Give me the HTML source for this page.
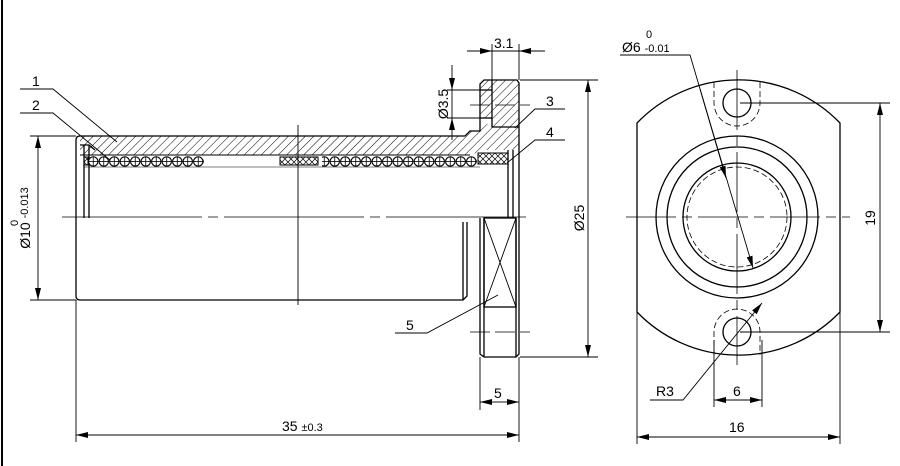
<!DOCTYPE html>
<html><head><meta charset="utf-8"><style>
html,body{margin:0;padding:0;background:#fff;}
svg{display:block;}
text{font-family:"Liberation Sans",sans-serif;font-size:14px;fill:#000;}
</style></head><body>
<svg width="900" height="466" viewBox="0 0 900 466" xmlns="http://www.w3.org/2000/svg">
<defs>
<pattern id="hatch" width="6" height="6" patternUnits="userSpaceOnUse" patternTransform="rotate(45)">
<line x1="0" y1="0" x2="0" y2="6" stroke="#000" stroke-width="1"/>
</pattern>
<pattern id="balls" x="88" y="156" width="10.5" height="11" patternUnits="userSpaceOnUse">
<circle cx="5.25" cy="5.5" r="4.7" fill="#fff" stroke="#000" stroke-width="1.1"/>
<line x1="5.25" y1="1" x2="5.25" y2="10" stroke="#000" stroke-width="0.8"/>
<line x1="0.6" y1="5.5" x2="9.9" y2="5.5" stroke="#000" stroke-width="0.8"/>
</pattern>
<pattern id="cross" width="6" height="6" patternUnits="userSpaceOnUse">
<path d="M0 0L6 6M6 0L0 6" stroke="#000" stroke-width="0.7"/>
</pattern>
<marker id="a" viewBox="0 0 12 6" refX="12" refY="3" markerWidth="12" markerHeight="6" orient="auto-start-reverse" markerUnits="userSpaceOnUse">
<path d="M0 0L12 3L0 6z" fill="#000"/>
</marker>
</defs>
<g fill="none" stroke="#000" stroke-width="1.3">
<line x1="2" y1="0" x2="2" y2="466" stroke-width="2"/>
<path d="M80 136 L465 136 L470 131 L480 131 L480 127 L492 122 L492 118 L480 118 L480 84 L484 80 L519 80 L519 150 L485 150 L470 155 L80 155 Z" fill="url(#hatch)" stroke="none"/>
<path d="M80 136 L465 136 L470 131 L480 131 L480 84 L484 80 L517 80 L519 83 L519 354 L516 357 L484 357 L480 354 L480 218"/>
<path d="M492 80 L492 127 L519 127"/>
<line x1="480" y1="90" x2="492" y2="90"/>
<line x1="480" y1="118" x2="492" y2="118"/>
<path d="M80 136 Q76 136 76 140 L76 296 Q76 300 80 300 L463 300 L467 296 L467 222"/>
<line x1="463" y1="222" x2="463" y2="300"/>
<line x1="84" y1="145" x2="84" y2="218"/>
<line x1="89" y1="145" x2="89" y2="218"/>
<path d="M80 145 L89 145 L95 150"/>
<line x1="80" y1="155" x2="470" y2="155" stroke-width="1"/>
<rect x="88" y="156" width="116" height="11" fill="url(#balls)" stroke="none"/>
<rect x="322" y="156" width="155" height="11" fill="url(#balls)" stroke="none"/>
<rect x="205" y="157" width="115" height="9" fill="#fff" stroke="none"/>
<rect x="280" y="157" width="38" height="8" fill="url(#cross)" stroke-width="1"/>
<rect x="84" y="157" width="4" height="8" fill="url(#cross)" stroke-width="1"/>
<rect x="478" y="153" width="30" height="11" fill="url(#cross)" stroke-width="1"/>
<line x1="84" y1="167" x2="480" y2="167" stroke-width="0.6"/>
<line x1="508" y1="150" x2="508" y2="218"/>
<line x1="513" y1="150" x2="513" y2="218"/>
<line x1="484" y1="218" x2="484" y2="357"/>
<line x1="516" y1="218" x2="516" y2="357"/>
<rect x="484" y="218" width="32" height="89"/>
<path d="M484 218 L516 307 M516 218 L484 307" stroke-width="0.9"/>
<line x1="62" y1="217" x2="530" y2="217" stroke-width="0.8" stroke-dasharray="140,6,10,6"/>
<line x1="298" y1="125" x2="298" y2="305" stroke-width="0.9"/>
<line x1="470" y1="105" x2="530" y2="105" stroke-width="0.8" stroke-dasharray="20,5"/>
<line x1="470" y1="332" x2="530" y2="332" stroke-width="0.8" stroke-dasharray="20,5"/>
<path d="M20 89 L53 89 L117 142" stroke-width="0.9"/>
<path d="M20 113 L53 113 L110 160" stroke-width="0.9"/>
<path d="M565 109 L535 109 L515 128" stroke-width="0.9"/>
<path d="M565 140 L535 140 L507 163" stroke-width="0.9"/>
<path d="M395 333 L427 333 L498 295" stroke-width="0.9"/>
<g stroke-width="0.9">
<line x1="30" y1="136" x2="76" y2="136"/><line x1="30" y1="300" x2="76" y2="300"/>
<line x1="38" y1="136" x2="38" y2="300" marker-start="url(#a)" marker-end="url(#a)"/>
<line x1="76" y1="300" x2="76" y2="442"/><line x1="519" y1="357" x2="519" y2="442"/>
<line x1="76" y1="435" x2="519" y2="435" marker-start="url(#a)" marker-end="url(#a)"/>
<line x1="480" y1="357" x2="480" y2="410"/>
<line x1="492" y1="402" x2="480" y2="402" marker-end="url(#a)"/><line x1="508" y1="402" x2="519" y2="402" marker-end="url(#a)"/>
<line x1="492" y1="402" x2="508" y2="402"/>
<line x1="520" y1="80" x2="598" y2="80"/><line x1="520" y1="357" x2="598" y2="357"/>
<line x1="588" y1="80" x2="588" y2="357" marker-start="url(#a)" marker-end="url(#a)"/>
<line x1="492" y1="44" x2="492" y2="80"/><line x1="519" y1="44" x2="519" y2="80"/>
<line x1="467" y1="51" x2="492" y2="51" marker-end="url(#a)"/><line x1="545" y1="51" x2="519" y2="51" marker-end="url(#a)"/>
<line x1="492" y1="51" x2="519" y2="51"/>
<line x1="447" y1="90" x2="480" y2="90"/><line x1="447" y1="118" x2="480" y2="118"/>
<line x1="452" y1="65" x2="452" y2="90" marker-end="url(#a)"/><line x1="452" y1="140" x2="452" y2="118" marker-end="url(#a)"/>
<line x1="452" y1="90" x2="452" y2="118"/>
</g>
<path d="M637 312 L637 123 A141 141 0 0 1 840 123 L840 312 A141 141 0 0 1 637 312 Z"/>
<circle cx="737" cy="217" r="81"/>
<circle cx="737" cy="217" r="70"/>
<circle cx="737" cy="217" r="54"/>
<circle cx="737" cy="217" r="50" stroke-width="0.8" stroke-dasharray="6,3"/>
<circle cx="737" cy="103" r="14"/>
<circle cx="737" cy="332" r="14"/>
<path d="M714 82 L714 103 A23 23 0 0 0 760 103 L760 82" stroke-width="0.8" stroke-dasharray="6,3"/>
<path d="M714 355 L714 332 A23 23 0 0 1 760 332 L760 355" stroke-width="0.8" stroke-dasharray="6,3"/>
<line x1="626" y1="217" x2="850" y2="217" stroke-width="0.8" stroke-dasharray="50,6,10,6"/>
<line x1="737" y1="70" x2="737" y2="365" stroke-width="0.8" stroke-dasharray="60,6,10,6"/>
<g stroke-width="0.9">
<path d="M620 55 L690 55 L753 268" marker-end="url(#a)"/>
<line x1="700" y1="89" x2="726" y2="178" marker-end="url(#a)"/>
<path d="M650 400 L683 400 L762 303" marker-end="url(#a)"/>
<line x1="740" y1="103" x2="890" y2="103"/><line x1="740" y1="332" x2="890" y2="332"/>
<line x1="880" y1="103" x2="880" y2="332" marker-start="url(#a)" marker-end="url(#a)"/>
<line x1="714" y1="340" x2="714" y2="407"/><line x1="762" y1="340" x2="762" y2="407"/>
<line x1="714" y1="400" x2="762" y2="400" marker-start="url(#a)" marker-end="url(#a)"/>
<line x1="637" y1="312" x2="637" y2="444"/><line x1="840" y1="312" x2="840" y2="444"/>
<line x1="637" y1="437" x2="840" y2="437" marker-start="url(#a)" marker-end="url(#a)"/>
</g>
</g>
<text x="32" y="86">1</text>
<text x="32" y="110">2</text>
<text x="546" y="106">3</text>
<text x="546" y="137">4</text>
<text x="406" y="330">5</text>
<text x="494" y="398">5</text>
<text x="494" y="48">3.1</text>
<text x="282" y="431">35 <tspan style="font-size:11px">±0.3</tspan></text>
<text transform="translate(448,104) rotate(-90)" text-anchor="middle">Ø3.5</text>
<text transform="translate(584,218) rotate(-90)" text-anchor="middle">Ø25</text>
<text transform="translate(30,218) rotate(-90)" text-anchor="middle">Ø10 <tspan style="font-size:11px" dy="-2">-0.013</tspan></text>
<text transform="translate(18,226) rotate(-90)" style="font-size:11px">0</text>
<text x="622" y="52">Ø6 <tspan style="font-size:11px">-0.01</tspan></text>
<text x="646" y="38" style="font-size:11px">0</text>
<text x="656" y="396">R3</text>
<text x="733" y="396">6</text>
<text x="729" y="432">16</text>
<text transform="translate(875,218) rotate(-90)" text-anchor="middle">19</text>
</svg>
</body></html>
